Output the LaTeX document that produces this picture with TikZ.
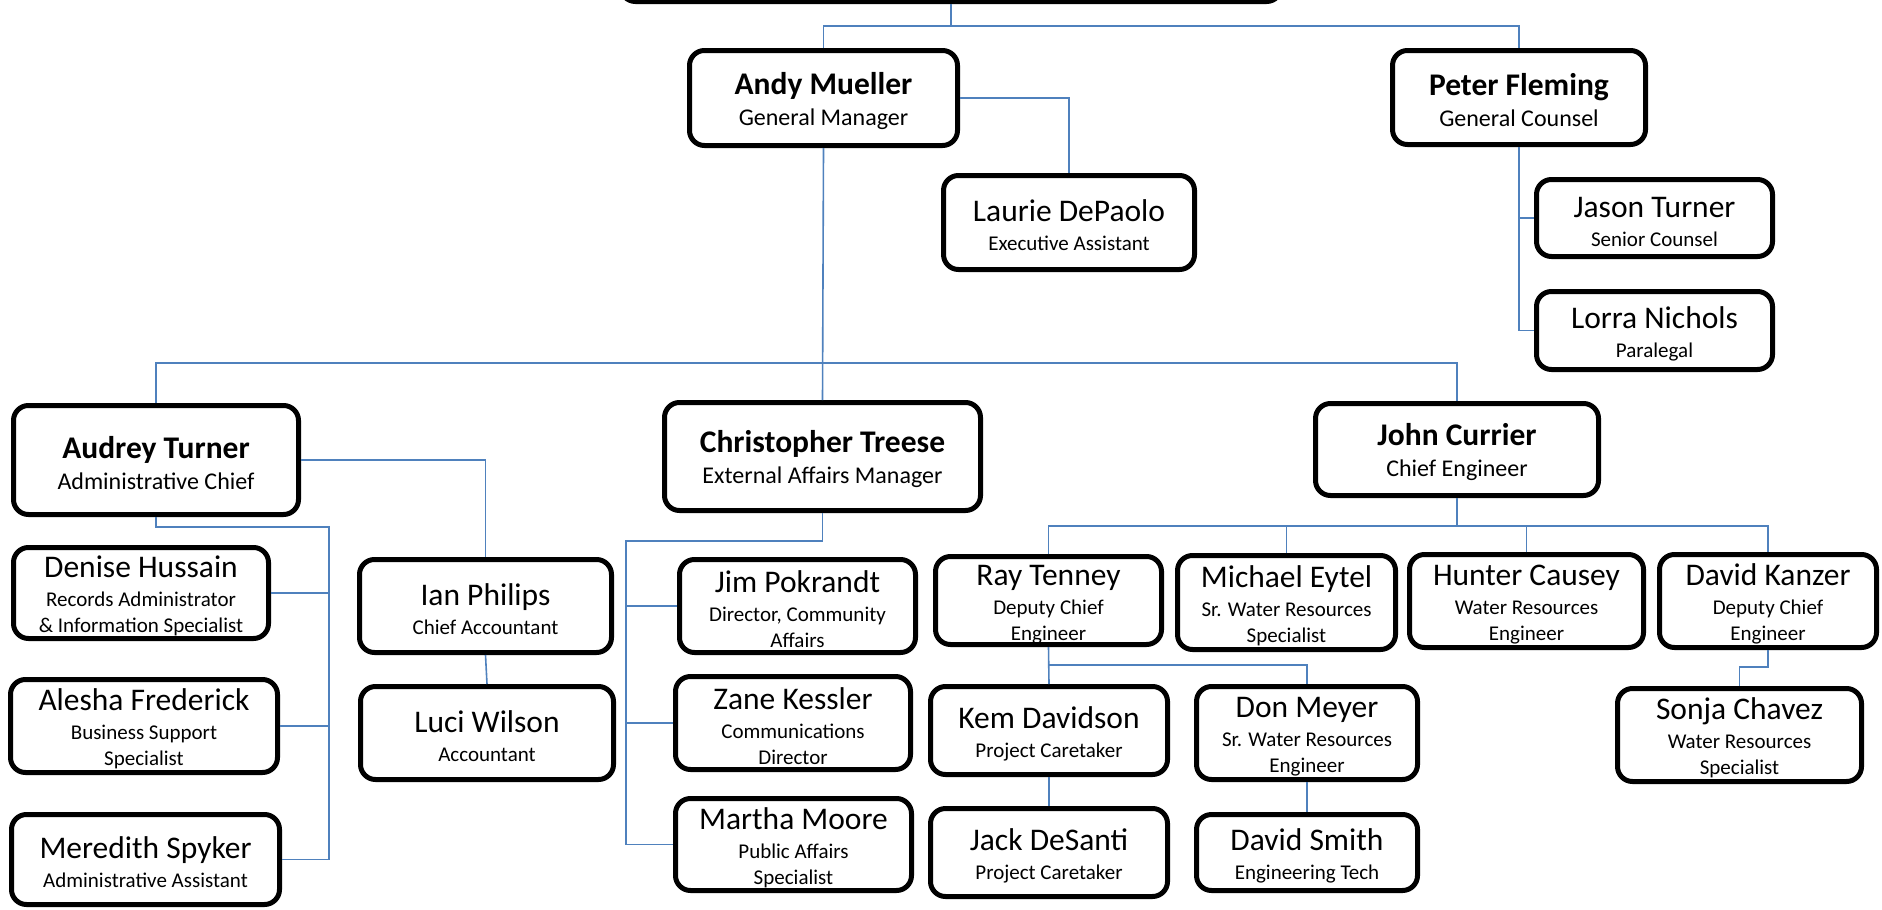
\documentclass[tikz,border=0pt]{standalone}
\usepackage{fontspec}
\setmainfont{Carlito}
\usepackage{xcolor}
\usepackage{tikz}
\usetikzlibrary{calc}
\definecolor{linkblue}{HTML}{4F81BD}
\newcommand{\namefont}{\fontsize{31.5}{36}\selectfont\rule{0pt}{28pt}}
\newcommand{\titlefont}{\fontsize{21}{26}\selectfont}
\newcommand{\headfont}{\fontsize{24}{29}\selectfont}

\begin{document}
\begin{tikzpicture}[
    x=1pt, y=-1pt,
    person/.style 2 args={draw=black, line width=5pt, rounded corners=15pt, align=center, inner sep=0pt,
        minimum width=#1 pt, minimum height=#2 pt, font=\titlefont, fill=white},
    head/.style={font=\headfont},
    link/.style={draw=linkblue, line width=1.6pt}
]
\useasboundingbox (0,0) rectangle (1882,910);
% bus levels
\coordinate (busA) at (0,26);
\coordinate (busB) at (0,363);
\coordinate (busAdm) at (329,527);
\coordinate (busExt) at (626,541);
\coordinate (busEng) at (0,526);
\coordinate (busRay) at (0,665);
\coordinate (busKan) at (0,667);

% top level
\node[person={661}{95}] (top) at (951,-46) {};
\node[person={268}{95}, head] (andy) at (823.5,98) {{\namefont\bfseries Andy Mueller}\\[2pt]General Manager};
\node[person={253}{94}, head] (peter) at (1519,97.5) {{\namefont\bfseries Peter Fleming}\\[2pt]General Counsel};
\node[person={251}{94}] (laurie) at (1069,222.5) {{\namefont Laurie DePaolo}\\[3pt]Executive Assistant};
\node[person={236}{77}] (jason) at (1654.5,218) {{\namefont Jason Turner}\\[3pt]Senior Counsel};
\node[person={236}{78}] (lorra) at (1654.5,330.5) {{\namefont Lorra Nichols}\\[3pt]Paralegal};

% managers
\node[person={285}{109}, head] (audrey) at (156,460) {{\namefont\bfseries Audrey Turner}\\[2pt]Administrative Chief};
\node[person={316}{108}, head] (chris) at (822.5,456.5) {{\namefont\bfseries Christopher Treese}\\[2pt]External Affairs Manager};
\node[person={283}{92}, head] (john) at (1457,449.5) {{\namefont\bfseries John Currier}\\[2pt]Chief Engineer};

% administration
\node[person={255}{91}] (denise) at (141,593) {{\namefont Denise Hussain}\\[3pt]Records Administrator\\\& Information Specialist};
\node[person={267}{93}] (alesha) at (144,726) {{\namefont Alesha Frederick}\\[3pt]Business Support\\Specialist};
\node[person={268}{90}] (meredith) at (145.5,859.5) {{\namefont Meredith Spyker}\\[3pt]Administrative Assistant};
\node[person={252}{93}] (ian) at (485.5,606) {{\namefont Ian Philips}\\[3pt]Chief Accountant};
\node[person={253}{93}] (luci) at (487,733) {{\namefont Luci Wilson}\\[3pt]Accountant};

% external affairs
\node[person={236}{93}] (jim) at (797.5,606) {{\namefont Jim Pokrandt}\\[3pt]Director, Community\\Affairs};
\node[person={235}{93}] (zane) at (793,723) {{\namefont Zane Kessler}\\[3pt]Communications\\Director};
\node[person={236}{92}] (martha) at (793.5,844.5) {{\namefont Martha Moore}\\[3pt]Public Affairs\\Specialist};

% engineering
\node[person={226}{88}] (ray) at (1048.5,600.5) {{\namefont Ray Tenney}\\[3pt]Deputy Chief\\Engineer};
\node[person={218}{94}] (michael) at (1286.5,602.5) {{\namefont Michael Eytel}\\[3pt]Sr. Water Resources\\Specialist};
\node[person={234}{93}] (hunter) at (1526.5,601) {{\namefont Hunter Causey}\\[3pt]Water Resources\\Engineer};
\node[person={217}{93}] (kanzer) at (1768,601) {{\namefont David Kanzer}\\[3pt]Deputy Chief\\Engineer};
\node[person={237}{88}] (kem) at (1049,730.5) {{\namefont Kem Davidson}\\[3pt]Project Caretaker};
\node[person={237}{88}] (jack) at (1049,852.5) {{\namefont Jack DeSanti}\\[3pt]Project Caretaker};
\node[person={221}{93}] (don) at (1307,733) {{\namefont Don Meyer}\\[3pt]Sr. Water Resources\\Engineer};
\node[person={221}{76}] (smith) at (1307,852.5) {{\namefont David Smith}\\[3pt]Engineering Tech};
\node[person={244}{93}] (sonja) at (1739.5,735) {{\namefont Sonja Chavez}\\[3pt]Water Resources\\Specialist};

% connectors
\draw[link] (top.south) -- (top.south |- busA);
\draw[link] (andy.north) |- (peter.north |- busA) -- (peter.north);
\draw[link] (andy.east) -| (laurie.north);
\draw[link] (peter.south) |- (jason.west);
\draw[link] (peter.south) |- (lorra.west);
\draw[link] (andy.south) -- (chris.north);
\draw[link] (audrey.north) |- (john.north |- busB) -- (john.north);
\draw[link] (audrey.east) -| (ian.north);
\draw[link] (audrey.south) |- (busAdm) |- (meredith.east);
\draw[link] (denise.east) -- (denise.east -| busAdm);
\draw[link] (alesha.east) -- (alesha.east -| busAdm);
\draw[link] (ian.south) -- (luci.north);
\draw[link] (chris.south) |- (busExt) |- (martha.west);
\draw[link] (jim.west) -- (jim.west -| busExt);
\draw[link] (zane.west) -- (zane.west -| busExt);
\draw[link] (john.south) -- (john.south |- busEng);
\draw[link] (ray.north) |- (kanzer.north |- busEng) -- (kanzer.north);
\draw[link] (michael.north) -- (michael.north |- busEng);
\draw[link] (hunter.north) -- (hunter.north |- busEng);
\draw[link] (ray.south) -- (kem.north);
\draw[link] (ray.south |- busRay) -| (don.north);
\draw[link] (kem.south) -- (jack.north);
\draw[link] (don.south) -- (smith.north);
\draw[link] (kanzer.south) |- ($(kanzer.south |- busKan)!0.5!(sonja.north |- busKan)$) -| (sonja.north);
\end{tikzpicture}
\end{document}
